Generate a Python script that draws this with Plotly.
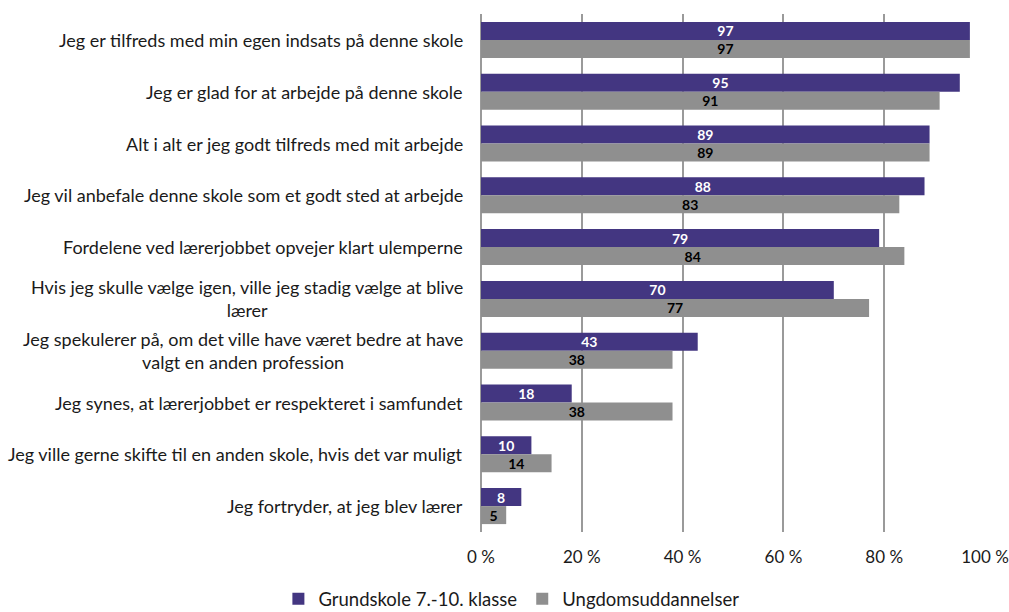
import plotly.graph_objects as go

categories = [
    "Jeg er tilfreds med min egen indsats på denne skole",
    "Jeg er glad for at arbejde på denne skole",
    "Alt i alt er jeg godt tilfreds med mit arbejde",
    "Jeg vil anbefale denne skole som et godt sted at arbejde",
    "Fordelene ved lærerjobbet opvejer klart ulemperne",
    "Hvis jeg skulle vælge igen, ville jeg stadig vælge at blive<br>lærer",
    "Jeg spekulerer på, om det ville have været bedre at have<br>valgt en anden profession",
    "Jeg synes, at lærerjobbet er respekteret i samfundet",
    "Jeg ville gerne skifte til en anden skole, hvis det var muligt",
    "Jeg fortryder, at jeg blev lærer",
]
grundskole = [97, 95, 89, 88, 79, 70, 43, 18, 10, 8]
ungdom = [97, 91, 89, 83, 84, 77, 38, 38, 14, 5]
tick_vals = [0, 20, 40, 60, 80, 100]
tick_text = ["0 %", "20 %", "40 %", "60 %", "80 %", "100 %"]

FONT = "Lato, 'Source Sans Pro', 'Noto Sans', sans-serif"

fig = go.Figure()
fig.add_trace(go.Bar(
    y=categories, x=grundskole, orientation="h",
    name="Grundskole 7.-10. klasse",
    marker=dict(color="#433681", line=dict(width=0)),
    text=grundskole, textposition="inside", insidetextanchor="middle",
    constraintext="none",
    textfont=dict(color="white", size=14, family=FONT, weight="bold"),
    textangle=0,
))
fig.add_trace(go.Bar(
    y=categories, x=ungdom, orientation="h",
    name="Ungdomsuddannelser",
    marker=dict(color="#8f8f8f", line=dict(width=0)),
    text=ungdom, textposition="inside", insidetextanchor="middle",
    constraintext="none",
    textfont=dict(color="black", size=14, family=FONT, weight="bold"),
    textangle=0,
))

for c in categories:
    fig.add_annotation(
        x=0, xref="paper", y=c, yref="y",
        text=c, showarrow=False, xanchor="right", xshift=-16,
        align="center", font=dict(size=18, color="#1a1a1a", family=FONT),
    )

fig.update_layout(
    width=1009, height=612,
    margin=dict(l=481, r=24, t=14, b=80, autoexpand=False),
    paper_bgcolor="white", plot_bgcolor="white",
    barmode="group", bargap=0.305, bargroupgap=0,
    font=dict(family=FONT, size=17, color="#1a1a1a"),
    showlegend=True,
    legend=dict(orientation="h", x=-0.402, xanchor="left", y=-0.13, yanchor="middle",
                font=dict(size=18.5, color="#1a1a1a"), traceorder="normal",
                tracegroupgap=0),
)
fig.update_xaxes(
    range=[0, 100], tickvals=tick_vals, ticktext=tick_text,
    showgrid=True, gridcolor="#9a9a9a", gridwidth=1.5,
    zeroline=True, zerolinecolor="#9a9a9a", zerolinewidth=1.5,
    showline=False, ticks="", ticklabelstandoff=13,
    automargin=False,
    tickfont=dict(size=17, color="#1a1a1a"),
)
fig.update_yaxes(
    autorange="reversed", showticklabels=False, showgrid=False,
    zeroline=False, showline=False, ticks="", automargin=False,
)

fig.write_html(
    "out.html",
    config={"displayModeBar": False},
    post_script="document.body.style.margin='0';document.body.style.padding='0';document.body.style.overflow='hidden';",
)
